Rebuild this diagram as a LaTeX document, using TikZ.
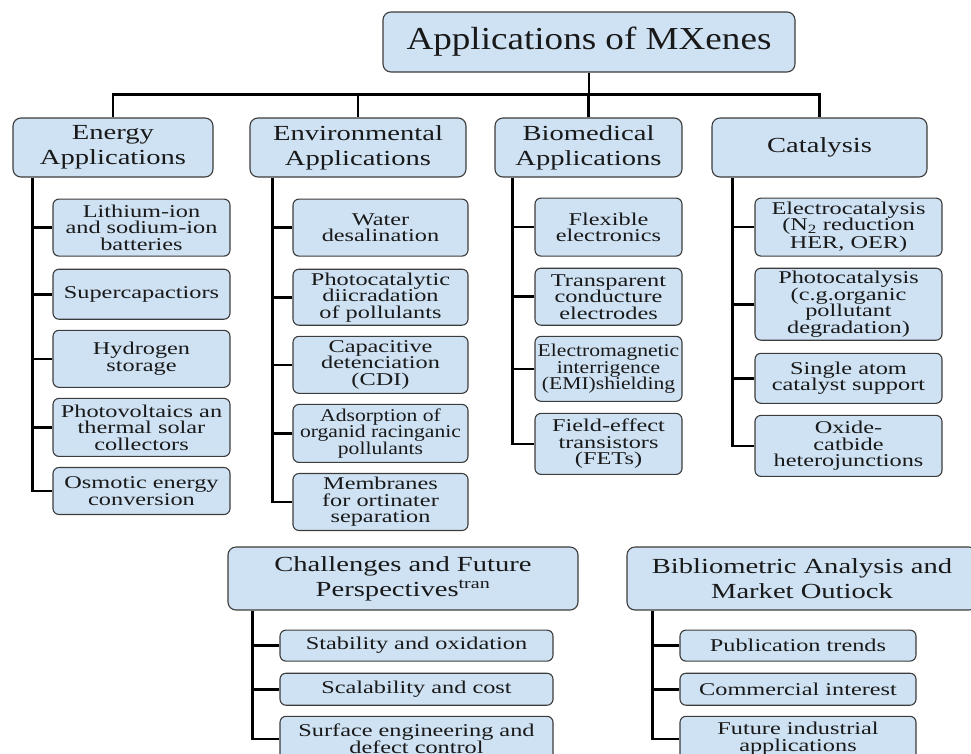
\documentclass[tikz,border=0pt]{standalone}
\usepackage{fontspec}
\setmainfont{Liberation Serif}
\newfontfamily\titlefont{Liberation Serif}[FakeStretch=1.16]
\newfontfamily\headfont{Liberation Serif}[FakeStretch=1.33]
\newfontfamily\leaffont{Liberation Serif}[FakeStretch=1.35]
\newfontfamily\leafnarrow{Liberation Serif}[FakeStretch=1.2]
\usetikzlibrary{positioning, calc}
\definecolor{boxfill}{RGB}{207,226,243}
\definecolor{boxline}{RGB}{60,60,60}

\begin{document}
\begin{tikzpicture}[
    x=1pt, y=-1pt,
    node distance=10pt,
    box/.style={rectangle, draw=boxline, fill=boxfill, line width=1.1pt, rounded corners=8pt, align=center, inner sep=2pt, text=black!90},
    titlebox/.style={box, minimum width=412pt, minimum height=60pt, font=\titlefont\fontsize{32}{36}\selectfont},
    head/.style={box, minimum height=59pt, font=\headfont\fontsize{21.5}{25}\selectfont},
    leaf/.style={box, rounded corners=6pt, minimum height=57pt, font=\leaffont\fontsize{18}{16.5}\selectfont},
    conn/.style={line width=2.6pt, black}
]
\useasboundingbox (0,0) rectangle (971,753);

% Title
\node[titlebox] (title) at (589,42) {Applications of MXenes};

% Main branches
\node[head, minimum width=200pt] (energy) at (113,147.5) {Energy\\Applications};
\node[head, minimum width=216pt] (env) at (358,147.5) {Environmental\\Applications};
\node[head, minimum width=187pt] (bio) at (588.5,147.5) {Biomedical\\Applications};
\node[head, minimum width=215pt] (cat) at (819.5,147.5) {Catalysis};

\coordinate (bus) at ([yshift=-22pt]title.south);
\draw[conn] (title.south) -- (bus);
\draw[conn] (energy.north) |- (bus) -| (cat.north);
\draw[conn] (env.north) -- (env.north |- bus);
\draw[conn] (bio.north) -- (bio.north |- bus);

% Energy
\node[leaf, minimum width=177pt] (e1) [below right=21pt and 40pt of energy.south west] {Lithium-ion\\ and sodium-ion\\ batteries};
\node[leaf, minimum width=177pt, minimum height=50pt] (e2) [below=12pt of e1] {Supercapactiors};
\node[leaf, minimum width=177pt] (e3) [below=10pt of e2] {Hydrogen\\ storage};
\node[leaf, minimum width=177pt, minimum height=58pt] (e4) [below=10pt of e3] {Photovoltaics an\\ thermal solar\\ collectors};
\node[leaf, minimum width=177pt, minimum height=47pt] (e5) [below=10pt of e4] {Osmotic energy\\ conversion};

\coordinate (etrunk) at ([xshift=20pt]energy.south west);
\draw[conn] (etrunk) |- (e5.west);
\foreach \c in {e1,e2,e3,e4} \draw[conn] (\c.west) -- (\c.west -| etrunk);

% Environmental
\node[leaf, minimum width=175pt] (n1) [below right=21pt and 43pt of env.south west] {Water\\ desalination};
\node[leaf, minimum width=175pt, minimum height=56pt] (n2) [below=12pt of n1] {Photocatalytic\\ diicradation\\ of pollulants};
\node[leaf, minimum width=175pt] (n3) [below=10pt of n2] {Capacitive\\ detenciation\\ (CDI)};
\node[leaf, minimum width=175pt, minimum height=58pt, font=\leafnarrow\fontsize{18}{16.5}\selectfont] (n4) [below=10pt of n3] {Adsorption of\\ organid racinganic\\ pollulants};
\node[leaf, minimum width=175pt] (n5) [below=10pt of n4] {Membranes\\ for ortinater\\ separation};

\coordinate (ntrunk) at ([xshift=23pt]env.south west);
\draw[conn] (ntrunk) |- (n5.west);
\foreach \c in {n1,n2,n3,n4} \draw[conn] (\c.west) -- (\c.west -| ntrunk);

% Biomedical
\node[leaf, minimum width=147pt, minimum height=58pt] (b1) [below right=20pt and 40pt of bio.south west] {Flexible\\ electronics};
\node[leaf, minimum width=147pt] (b2) [below=11pt of b1] {Transparent\\ conducture\\ electrodes};
\node[leaf, minimum width=147pt, minimum height=65pt, font=\leafnarrow\fontsize{18}{16.5}\selectfont] (b3) [below=10pt of b2] {Electromagnetic\\ interrigence\\ (EMI)shielding};
\node[leaf, minimum width=147pt, minimum height=61pt] (b4) [below=11pt of b3] {Field-effect\\ transistors\\ (FETs)};

\coordinate (btrunk) at ([xshift=18pt]bio.south west);
\draw[conn] (btrunk) |- (b4.west);
\foreach \c in {b1,b2,b3} \draw[conn] (\c.west) -- (\c.west -| btrunk);

% Catalysis
\node[leaf, minimum width=187pt, minimum height=58pt] (c1) [below right=20pt and 43pt of cat.south west] {Electrocatalysis\\ (N\textsubscript{2} reduction\\[1.5pt] HER, OER)};
\node[leaf, minimum width=187pt, minimum height=72pt] (c2) [below=11pt of c1] {Photocatalysis\\ (c.g.organic\\ pollutant\\ degradation)};
\node[leaf, minimum width=187pt, minimum height=50pt] (c3) [below=12pt of c2] {Single atom\\ catalyst support};
\node[leaf, minimum width=187pt, minimum height=61pt] (c4) [below=11pt of c3] {Oxide-\\ catbide\\ heterojunctions};

\coordinate (ctrunk) at ([xshift=21pt]cat.south west);
\draw[conn] (ctrunk) |- (c4.west);
\foreach \c in {c1,c2,c3} \draw[conn] (\c.west) -- (\c.west -| ctrunk);

% Challenges
\node[head, minimum width=350pt, minimum height=63pt] (chal) at (403,578.5) {Challenges and Future\\ Perspectives\textsuperscript{tran}};
\node[leaf, minimum width=273pt, minimum height=31pt] (h1) [below right=19pt and 52pt of chal.south west] {Stability and oxidation};
\node[leaf, minimum width=273pt, minimum height=32pt] (h2) [below=11pt of h1] {Scalability and cost};
\node[leaf, minimum width=273pt, minimum height=45pt] (h3) [below=10pt of h2] {Surface engineering and\\ defect control};

\coordinate (htrunk) at ([xshift=25pt]chal.south west);
\draw[conn] (htrunk) |- (h3.west);
\foreach \c in {h1,h2} \draw[conn] (\c.west) -- (\c.west -| htrunk);

% Bibliometrics
\node[head, minimum width=350pt, minimum height=63pt] (bib) at (802,578.5) {Bibliometric Analysis and\\ Market Outiock};
\node[leaf, minimum width=236pt, minimum height=31pt] (m1) [below right=19pt and 53pt of bib.south west] {Publication trends};
\node[leaf, minimum width=236pt, minimum height=32pt] (m2) [below=11pt of m1] {Commercial interest};
\node[leaf, minimum width=236pt, minimum height=45pt] (m3) [below=10pt of m2] {Future industrial\\ applications};

\coordinate (mtrunk) at ([xshift=26pt]bib.south west);
\draw[conn] (mtrunk) |- (m3.west);
\foreach \c in {m1,m2} \draw[conn] (\c.west) -- (\c.west -| mtrunk);

\end{tikzpicture}
\end{document}
